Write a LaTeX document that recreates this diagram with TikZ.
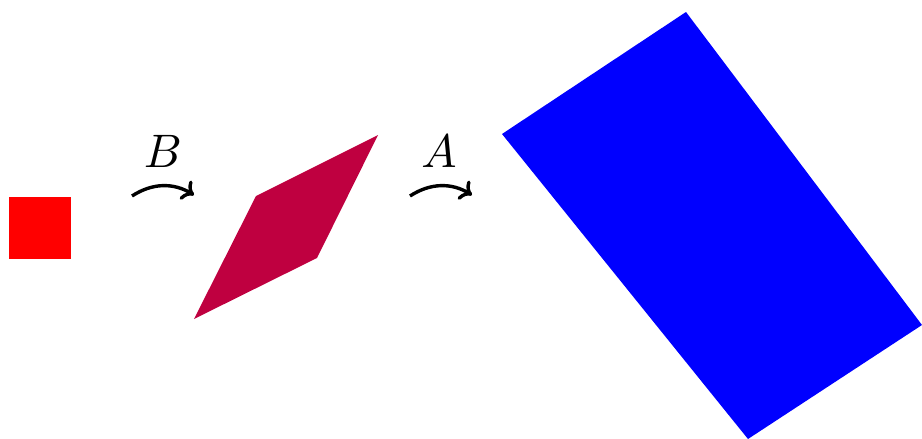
\documentclass[tikz,border=0pt]{standalone}
\usetikzlibrary{arrows.meta}
\begin{document}
\begin{tikzpicture}[x=1pt,y=-1pt,
  maparrow/.style={line width=3.4pt,-{Computer Modern Rightarrow[length=11pt,width=22pt]}},
  maplabel/.style={inner sep=0pt,anchor=base,scale=4.7}]
\useasboundingbox (0,0) rectangle (922,439);
% red square
\fill[red] (9,197) rectangle (71,259);
% purple parallelogram
\fill[purple] (194,319) -- (256,196) -- (378,135) -- (317,258) -- cycle;
% blue parallelogram
\fill[blue] (502,134) -- (686,12) -- (922,325) -- (748,439) -- cycle;
% arrows
\coordinate (b1) at (132,196);
\coordinate (b2) at (194,195);
\coordinate (a1) at (410,196);
\coordinate (a2) at (472,195);
\draw[maparrow] (b1) to[bend left=32] (b2);
\draw[maparrow] (a1) to[bend left=32] (a2);
\node[maplabel] (lb) at (163,167) {$B$};
\node[maplabel] (la) at (439,167) {$A$};
\end{tikzpicture}
\end{document}
